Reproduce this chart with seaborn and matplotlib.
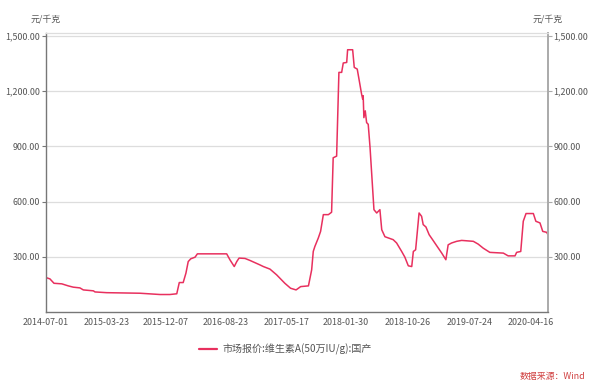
import pandas as pd
import numpy as np
import matplotlib
matplotlib.use("Agg")
import matplotlib.pyplot as plt
import matplotlib.dates as mdates
from matplotlib.ticker import FuncFormatter
import seaborn as sns

# - Data (元/千克) -
dates = [
    "2014-07-01", "2014-07-18", "2014-08-05", "2014-09-08", "2014-10-06", "2014-10-28",
    "2014-11-26", "2014-12-11", "2015-01-24", "2015-01-31", "2015-03-23", "2015-08-15",
    "2015-11-11", "2015-12-24", "2016-01-23", "2016-02-03", "2016-02-20", "2016-03-03",
    "2016-03-13", "2016-03-24", "2016-04-12", "2016-04-22", "2016-08-28", "2016-09-11",
    "2016-09-30", "2016-10-11", "2016-10-21", "2016-11-16", "2016-12-08", "2017-01-20",
    "2017-02-04", "2017-03-05", "2017-04-03", "2017-05-09", "2017-06-03", "2017-06-27",
    "2017-07-17", "2017-08-20", "2017-09-03", "2017-09-10", "2017-09-17", "2017-10-02",
    "2017-10-12", "2017-10-24", "2017-11-15", "2017-11-29", "2017-12-06", "2017-12-21",
    "2017-12-31", "2018-01-12", "2018-01-19", "2018-02-03", "2018-02-07", "2018-03-01",
    "2018-03-08", "2018-03-21", "2018-03-30", "2018-04-09", "2018-04-14", "2018-04-16",
    "2018-04-19", "2018-04-25", "2018-05-01", "2018-05-08", "2018-05-16", "2018-06-02",
    "2018-06-14", "2018-06-28", "2018-07-06", "2018-07-20", "2018-08-25", "2018-09-09",
    "2018-10-01", "2018-10-15", "2018-10-30", "2018-11-14", "2018-11-21", "2018-12-01",
    "2018-12-16", "2018-12-27", "2019-01-03", "2019-01-15", "2019-01-29", "2019-02-13",
    "2019-03-03", "2019-03-25", "2019-04-12", "2019-04-22", "2019-05-07", "2019-05-29",
    "2019-06-20", "2019-08-10", "2019-08-31", "2019-09-22", "2019-10-21", "2019-12-19",
    "2020-01-09", "2020-02-08", "2020-02-15", "2020-03-04", "2020-03-15", "2020-03-27",
    "2020-04-28", "2020-05-09", "2020-05-27", "2020-06-08", "2020-06-25", "2020-07-01",
]
prices = [
    187, 180, 156, 153, 142, 135,
    131, 120, 115, 109, 105, 102,
    95, 95, 99, 160, 160, 211,
    274, 289, 298, 316, 316, 284,
    247, 274, 293, 291, 280, 256,
    247, 233, 202, 156, 129, 120,
    138, 142, 229, 329, 356, 402,
    438, 529, 529, 542, 838, 847,
    1302, 1302, 1353, 1356, 1425, 1425,
    1329, 1320, 1256, 1184, 1156, 1175,
    1056, 1093, 1029, 1020, 893, 556,
    538, 556, 447, 409, 393, 375,
    329, 298, 251, 247, 329, 338,
    538, 520, 475, 462, 420, 393,
    360, 320, 284, 365, 375, 384,
    389, 384, 369, 347, 324, 320,
    305, 305, 324, 329, 493, 535,
    535, 493, 484, 438, 433, 420,
]
tick_dates = ["2014-07-01", "2015-03-23", "2015-12-07", "2016-08-23", "2017-05-17",
              "2018-01-30", "2018-10-26", "2019-07-24", "2020-04-16"]
y_ticks = [300, 600, 900, 1200, 1500]
series_name = "市场报价:维生素A(50万IU/g):国产"
unit_label = "元/千克"
source_note = "数据来源：Wind"

df = pd.DataFrame({"date": pd.to_datetime(dates), "price": prices, "series": series_name})

# - Style -
sns.set_style("white")
plt.rcParams["font.family"] = ["Noto Sans CJK SC", "DejaVu Sans"]
line_color = "#e8305e"
text_color = "#555555"
tick_size = 6.4

fig = plt.figure(figsize=(5.89, 3.81), dpi=100)
ax = fig.add_axes([46 / 589, 1 - 312 / 381, 502 / 589, 279 / 381])

sns.lineplot(data=df, x="date", y="price", hue="series", palette=[line_color],
             linewidth=1.1, ax=ax, legend=False)

ax.set_xlim(pd.Timestamp(dates[0]), pd.Timestamp(dates[-1]))
ax.set_ylim(0, 1516)
ax.set_xlabel("")
ax.set_ylabel("")
ax.set_yticks(y_ticks)
ax.yaxis.set_major_formatter(FuncFormatter(lambda v, p: f"{v:,.2f}"))
ax.set_xticks(pd.to_datetime(tick_dates))
ax.xaxis.set_major_formatter(mdates.DateFormatter("%Y-%m-%d"))
ax.grid(axis="y", color="#dddddd", linewidth=0.9)
ax.grid(axis="x", visible=False)
for side in ["left", "bottom"]:
    ax.spines[side].set_color("#777777")
    ax.spines[side].set_linewidth(1.0)
ax.spines["right"].set_color("#aaaaaa")
ax.spines["right"].set_linewidth(1.4)
ax.spines["top"].set_color("#dddddd")
ax.spines["top"].set_linewidth(0.9)
ax.tick_params(axis="both", length=3, width=0.8, color="#777777",
               labelsize=tick_size, labelcolor=text_color, pad=1.5)

# right axis mirrors left
ax2 = ax.twinx()
ax2.set_ylim(ax.get_ylim())
ax2.set_yticks(y_ticks)
ax2.yaxis.set_major_formatter(FuncFormatter(lambda v, p: f"{v:,.2f}"))
ax2.tick_params(axis="y", length=3, width=0.8, color="#aaaaaa",
                labelsize=tick_size, labelcolor=text_color, pad=1)
for s in ax2.spines.values():
    s.set_visible(False)

fig.text(46 / 589, 1 - 19 / 381, unit_label, fontsize=tick_size, color=text_color,
         ha="center", va="center")
fig.text(548 / 589, 1 - 19 / 381, unit_label, fontsize=tick_size, color=text_color,
         ha="center", va="center")

# legend
handle = plt.Line2D([], [], color=line_color, linewidth=1.6)
fig.legend([handle], [series_name], loc="center", bbox_to_anchor=(0.485, 1 - 349 / 381),
           frameon=False, fontsize=7.2, handlelength=1.8, handletextpad=0.5,
           labelcolor=text_color)

fig.text(585 / 589, 1 - 376 / 381, source_note, fontsize=6.4, color="#d04040",
         ha="right", va="center", style="italic")

fig.savefig("out.png", dpi=100)
